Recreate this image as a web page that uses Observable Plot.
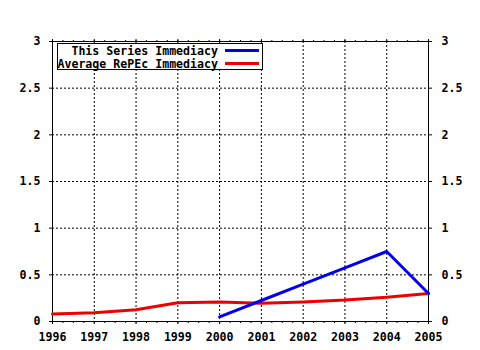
<!DOCTYPE html>
<html>
<head>
<meta charset="utf-8">
<script src="https://cdn.jsdelivr.net/npm/d3@7"></script>
<script src="https://cdn.jsdelivr.net/npm/@observablehq/plot@0.6"></script>
<style>
  html, body { margin: 0; padding: 0; background: #fff; }
  #chart svg { display: block; }
</style>
</head>
<body>
<div id="chart"></div>
<script>
// Data
const seriesYears = [2000, 2001, 2002, 2003, 2004, 2005];
const seriesValues = [0.05, 0.225, 0.40, 0.575, 0.75, 0.30];
const avgYears = [1996, 1997, 1998, 1999, 2000, 2001, 2002, 2003, 2004, 2005];
const avgValues = [0.08, 0.095, 0.125, 0.20, 0.21, 0.195, 0.21, 0.23, 0.26, 0.30];
const xTicks = [1996, 1997, 1998, 1999, 2000, 2001, 2002, 2003, 2004, 2005];
const xMinorTicks = d3.range(1996, 2005.001, 0.25);
const yTicks = [0, 0.5, 1, 1.5, 2, 2.5, 3];
const yTickLabels = ["0", "0.5", "1", "1.5", "2", "2.5", "3"];
const legendLabels = ["This Series Immediacy", "Average RePEc Immediacy"];
const colors = ["#0000ee", "#ee0000"];

const seriesData = seriesYears.map((x, i) => ({x, y: seriesValues[i]}));
const avgData = avgYears.map((x, i) => ({x, y: avgValues[i]}));

const FONT = "DejaVu Sans Mono, monospace";
const FSIZE = 11.6;
const yFmt = d => yTickLabels[yTicks.indexOf(d)];
const blank = () => "";

const chart = Plot.plot({
  width: 480,
  height: 350,
  marginLeft: 52,
  marginRight: 52,
  marginTop: 41,
  marginBottom: 29,
  style: {fontFamily: FONT, fontSize: FSIZE + "px", fontWeight: "bold", color: "#000", background: "#fff"},
  x: {domain: [1996, 2005], label: null},
  y: {domain: [0, 3], label: null},
  marks: [
    Plot.gridX(xTicks, {stroke: "#000", strokeOpacity: 1, strokeDasharray: "2,2"}),
    Plot.gridY(yTicks, {stroke: "#000", strokeOpacity: 1, strokeDasharray: "2,2"}),
    Plot.axisX(xMinorTicks, {anchor: "bottom", tickSize: 2, tickFormat: blank, label: null}),
    Plot.axisX(xMinorTicks, {anchor: "top", tickSize: 2, tickFormat: blank, label: null}),
    Plot.axisX(xTicks, {anchor: "bottom", tickSize: 3, tickPadding: 8, tickFormat: d => String(d), label: null}),
    Plot.axisX(xTicks, {anchor: "top", tickSize: 3, tickFormat: blank, label: null}),
    Plot.axisY(yTicks, {anchor: "left", tickSize: 3, tickPadding: 9, tickFormat: yFmt, label: null}),
    Plot.axisY(yTicks, {anchor: "right", tickSize: 3, tickPadding: 10, tickFormat: yFmt, label: null}),
    Plot.frame({stroke: "#000", strokeWidth: 1}),
    Plot.line(avgData, {x: "x", y: "y", stroke: colors[1], strokeWidth: 3}),
    Plot.line(seriesData, {x: "x", y: "y", stroke: colors[0], strokeWidth: 3})
  ]
});

document.getElementById("chart").appendChild(chart);

// Legend box (gnuplot style) inside the plot area
const svg = d3.select(chart);
const lg = svg.append("g").attr("class", "legend");
lg.append("rect")
  .attr("x", 57.5).attr("y", 43.5).attr("width", 205).attr("height", 26)
  .attr("fill", "#fff").attr("stroke", "#000").attr("stroke-width", 1);
legendLabels.forEach((t, i) => {
  const cy = 50.5 + i * 13;
  lg.append("text")
    .attr("x", 218).attr("y", cy).attr("dy", "0.35em")
    .attr("text-anchor", "end")
    .attr("font-family", FONT).attr("font-size", FSIZE).attr("font-weight", "bold")
    .attr("fill", "#000")
    .text(t);
  lg.append("line")
    .attr("x1", 225).attr("x2", 259).attr("y1", cy).attr("y2", cy)
    .attr("stroke", colors[i]).attr("stroke-width", 3);
});
</script>
</body>
</html>
